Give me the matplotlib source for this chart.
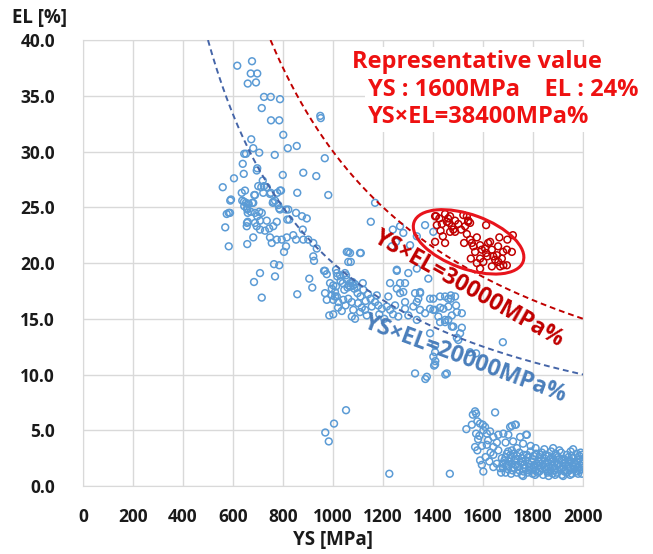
import numpy as np
import matplotlib.pyplot as plt
from matplotlib.patches import Ellipse
from matplotlib.transforms import ScaledTranslation

# (YS [MPa], EL [%])
blue_upper = [
    (617, 37.7), (676, 38.1), (671, 37.0), (697, 37.0), (659, 36.1), (692, 36.2),
    (724, 34.9), (751, 34.9), (788, 34.7), (715, 33.9), (752, 32.8), (785, 32.8),
    (949, 33.2), (951, 33.0), (801, 31.5), (673, 31.1), (819, 30.3), (855, 30.5),
    (681, 30.3), (652, 29.8), (645, 29.8), (705, 29.9), (767, 29.7), (967, 29.4),
    (639, 28.9), (697, 28.5), (695, 28.3), (643, 28.0), (799, 27.9), (881, 28.1),
    (933, 27.8), (604, 27.6), (719, 27.4), (559, 26.8), (592, 25.7), (589, 25.6),
    (635, 26.3), (648, 26.5), (644, 25.5), (660, 25.3), (656, 24.9), (681, 25.4),
    (688, 26.1), (713, 26.8), (735, 26.8), (751, 26.3), (788, 26.5), (761, 25.5),
    (785, 24.9), (812, 24.8), (852, 24.5), (876, 24.2), (895, 24.0), (583, 24.5),
    (588, 24.5), (659, 24.5), (671, 24.6), (701, 26.9), (724, 26.9), (721, 26.3),
    (748, 26.2), (777, 26.3), (792, 26.5), (857, 26.3), (981, 26.1), (637, 25.6),
    (652, 25.4), (663, 25.3), (677, 25.4), (685, 26.1), (645, 25.1), (657, 24.8),
    (759, 25.4), (768, 25.6), (781, 25.2), (788, 24.8), (575, 24.4), (688, 24.5),
    (705, 24.6), (697, 24.2), (715, 24.5), (821, 24.8), (1168, 25.4),
]

blue_middle = [
    (569, 23.2), (583, 21.5), (656, 23.6), (655, 23.3), (688, 23.6), (695, 23.3),
    (708, 23.8), (735, 23.8), (708, 23.0), (728, 22.9), (761, 23.3), (775, 23.7),
    (681, 22.3), (657, 21.7), (748, 22.3), (755, 21.8), (775, 22.1), (795, 22.1),
    (815, 22.3), (812, 21.5), (804, 21.0), (841, 22.5), (852, 22.1), (879, 23.0),
    (881, 22.1), (901, 22.1), (921, 21.8), (935, 21.3), (921, 20.6), (924, 20.2),
    (964, 19.3), (708, 19.1), (764, 19.9), (785, 19.8), (768, 18.8), (684, 18.3),
    (715, 16.9), (857, 17.2), (905, 18.6), (917, 17.8), (968, 19.3), (1012, 19.4),
    (1015, 19.1), (988, 18.2), (1001, 18.0), (995, 17.7), (1012, 17.9), (1008, 17.4),
    (968, 17.3), (995, 17.1), (1015, 17.0), (1001, 16.7), (985, 15.3), (1001, 15.4),
    (825, 23.9), (817, 23.9), (745, 23.1), (659, 23.7), (1061, 21.0), (1111, 20.9),
    (1061, 20.1), (1071, 20.1), (1017, 18.8), (1028, 18.9), (1048, 19.1), (1055, 18.5),
    (1039, 18.2), (1068, 18.2), (1081, 18.0), (1095, 17.8), (1119, 18.2), (1121, 17.6),
    (1062, 18.0), (1070, 17.9), (1078, 18.3), (1085, 17.7), (1058, 17.8), (1088, 18.1),
    (975, 16.7), (1008, 17.0), (1021, 16.5), (1041, 16.7), (1061, 16.8), (1075, 16.5),
    (1035, 15.7), (1075, 15.2), (1088, 15.0), (1081, 15.8), (1108, 15.6), (1128, 15.8),
    (1135, 15.3), (1155, 16.1), (1168, 16.5), (1181, 16.2), (1195, 15.9), (1215, 16.1),
    (1228, 15.8), (1248, 16.2), (1261, 15.2), (1288, 15.9), (1301, 15.3), (1335, 14.9),
    (1348, 15.8), (1421, 15.2), (1448, 14.9), (1461, 14.9), (1475, 15.3), (1495, 15.6),
    (1228, 18.2), (1268, 18.2), (1288, 18.2), (1255, 17.7), (1268, 17.3), (1281, 17.4),
    (1221, 17.0), (1255, 19.3), (1328, 17.3), (1348, 17.4), (1341, 16.8), (1335, 16.5),
    (1401, 16.8), (1428, 17.0), (1448, 17.0), (1471, 16.8), (1488, 17.0), (1388, 15.9),
    (1408, 15.8), (1428, 16.0), (1441, 15.9), (1461, 16.1), (1301, 19.1), (1335, 19.5),
    (1381, 18.6), (1151, 23.7), (1239, 23.0), (1268, 23.3), (1281, 22.7), (1252, 21.9),
    (1235, 21.5), (1308, 21.6), (1335, 22.4), (1055, 21.0), (1068, 20.9), (1108, 20.9),
    (1255, 19.4), (1030, 18.4), (1045, 17.6), (1052, 18.9), (1098, 17.3), (1110, 17.0),
    (1140, 17.2), (1150, 16.8), (1130, 16.6), (1020, 16.0), (1050, 16.2), (1100, 16.4),
    (1115, 16.0), (1185, 15.4), (1205, 15.0), (1240, 15.4), (1175, 17.1), (975, 19.0),
    (1288, 16.5), (1321, 16.1), (1348, 17.3), (1388, 16.8), (1368, 15.5), (1401, 15.8),
    (1428, 14.7), (1448, 14.7), (1461, 16.8), (1471, 17.1), (1492, 16.2), (1515, 15.5),
    (1475, 14.3), (1481, 14.3), (1515, 14.2), (1368, 23.4), (1401, 22.8),
]

blue_low = [
    (1388, 13.7), (1408, 12.6), (1408, 12.0), (1401, 11.6), (1408, 10.9), (1328, 10.1),
    (1375, 9.8), (1455, 10.1), (1369, 9.6), (1404, 10.8), (1409, 11.2), (1449, 10.0),
    (1052, 6.8), (1004, 5.6), (969, 4.8), (983, 4.0), (1225, 1.1), (1467, 1.1),
    (1679, 12.9), (1501, 13.1), (1508, 13.7), (1495, 13.3), (1548, 12.0), (1572, 11.9),
]

blue_cluster = [
    (1568, 6.7), (1559, 6.4), (1572, 6.5), (1577, 5.8), (1588, 5.6), (1599, 5.5),
    (1608, 5.3), (1601, 5.0), (1555, 5.5), (1533, 5.1), (1572, 4.7), (1585, 4.5),
    (1615, 4.7), (1628, 4.9), (1641, 4.4), (1661, 4.6), (1681, 4.7), (1701, 4.6),
    (1708, 5.3), (1728, 5.5), (1748, 4.4), (1772, 4.6), (1568, 3.5), (1577, 3.2),
    (1595, 3.6), (1615, 3.7), (1588, 2.3), (1595, 1.9), (1601, 1.3), (1641, 3.5),
    (1661, 3.2), (1641, 2.8), (1675, 2.5), (1695, 2.9), (1715, 3.2), (1735, 3.4),
    (1641, 1.7), (1668, 1.6), (1648, 6.6), (1715, 5.4), (1731, 5.5), (1775, 4.6),
    (1580, 4.2), (1620, 4.1), (1655, 3.9), (1690, 3.9), (1720, 4.0), (1760, 3.8),
    (1790, 3.6), (1810, 3.4), (1625, 2.2), (1655, 2.0), (1630, 3.0), (1610, 2.6),
    (1700, 3.1), (1722, 2.9), (1745, 3.0), (1762, 2.8), (1790, 3.1), (1812, 2.9),
    (1835, 3.0), (1850, 2.8), (1872, 3.1), (1890, 2.9), (1912, 3.0), (1935, 2.8),
    (1950, 3.1), (1975, 2.9), (1995, 2.8), (1690, 2.6), (1712, 2.5), (1735, 2.7),
    (1755, 2.5), (1780, 2.6), (1800, 2.4), (1825, 2.6), (1845, 2.5), (1862, 2.7),
    (1880, 2.5), (1900, 2.6), (1925, 2.4), (1942, 2.6), (1960, 2.5), (1985, 2.7),
    (2000, 2.4), (1685, 2.3), (1705, 2.2), (1725, 2.3), (1750, 2.1), (1770, 2.3),
    (1795, 2.2), (1815, 2.0), (1832, 2.3), (1855, 2.1), (1875, 2.2), (1895, 2.0),
    (1915, 2.3), (1930, 2.1), (1950, 2.2), (1970, 2.0), (1990, 2.2), (1695, 1.9),
    (1715, 2.0), (1740, 1.8), (1765, 1.9), (1785, 1.7), (1805, 1.9), (1820, 1.8),
    (1840, 1.9), (1860, 1.7), (1880, 1.8), (1900, 1.9), (1920, 1.7), (1940, 1.8),
    (1958, 1.9), (1978, 1.7), (1998, 1.8), (1680, 1.6), (1700, 1.5), (1722, 1.6),
    (1745, 1.4), (1770, 1.6), (1790, 1.5), (1810, 1.4), (1830, 1.6), (1850, 1.5),
    (1870, 1.4), (1888, 1.6), (1910, 1.5), (1928, 1.4), (1948, 1.6), (1965, 1.5),
    (1985, 1.4), (1690, 1.2), (1712, 1.1), (1735, 1.2), (1755, 1.0), (1778, 1.2),
    (1798, 1.1), (1818, 1.2), (1840, 1.0), (1858, 1.2), (1878, 1.1), (1895, 1.2),
    (1915, 1.0), (1935, 1.2), (1955, 1.1), (1975, 1.3), (1995, 1.1), (1760, 0.9),
    (1862, 0.9), (1920, 0.9), (1845, 3.3), (1905, 3.2), (1960, 3.3), (1880, 3.4),
    # extra fill of the dense band
    (1710, 2.8), (1732, 2.4), (1758, 2.2), (1782, 2.0), (1802, 2.7), (1822, 2.2),
    (1848, 2.0), (1868, 2.4), (1885, 2.1), (1905, 2.4), (1922, 2.0), (1945, 2.3),
    (1965, 2.1), (1982, 2.4), (1996, 2.0), (1718, 1.4), (1738, 1.7), (1762, 1.3),
    (1782, 1.4), (1802, 1.7), (1825, 1.3), (1845, 1.7), (1865, 1.3), (1885, 1.4),
    (1905, 1.7), (1925, 1.3), (1945, 1.4), (1962, 1.7), (1980, 1.1), (1993, 1.5),
    (1728, 1.9), (1775, 2.8), (1828, 2.8), (1892, 2.7), (1955, 2.7), (1990, 3.0),
    (1808, 1.0), (1888, 1.0), (1948, 1.0), (1702, 1.8), (1678, 2.0), (1672, 1.2),
]

red_points = [
    (1408, 24.2), (1448, 24.4), (1468, 24.2), (1415, 23.4), (1435, 23.5), (1455, 23.7),
    (1465, 23.6), (1475, 23.3), (1481, 23.0), (1468, 22.8), (1488, 22.8), (1501, 23.5),
    (1521, 24.3), (1535, 24.2), (1541, 23.8), (1528, 23.3), (1548, 23.6), (1612, 23.4),
    (1408, 21.9), (1439, 22.4), (1448, 21.8), (1524, 21.8), (1548, 22.1), (1555, 21.8),
    (1561, 21.5), (1568, 21.0), (1551, 20.4), (1588, 21.6), (1595, 21.2), (1608, 21.3),
    (1612, 20.9), (1617, 20.6), (1588, 20.4), (1601, 20.1), (1628, 21.9), (1635, 21.2),
    (1641, 20.6), (1648, 20.3), (1655, 20.7), (1661, 20.1), (1675, 20.4), (1681, 19.8),
    (1695, 19.8), (1668, 19.7), (1635, 19.7), (1695, 21.2), (1715, 21.0), (1719, 22.5),
    (1697, 22.1), (1588, 19.5), (1575, 20.0), (1412, 24.2), (1540, 23.7), (1425, 24.0),
    (1460, 24.0), (1488, 23.8), (1512, 23.0), (1430, 22.9), (1535, 22.6), (1575, 22.3),
    (1620, 21.8), (1660, 21.5), (1680, 21.0), (1665, 22.3),
]

ys_ticks = list(range(0, 2001, 200))
el_ticks = [0, 5, 10, 15, 20, 25, 30, 35, 40]

plt.rcParams['font.family'] = ['Open Sans', 'DejaVu Sans']

fig = plt.figure(figsize=(6.53, 5.54), dpi=100)
ax = fig.add_axes([0.127, 0.1227, 0.766, 0.805])

blue = np.array(blue_upper + blue_middle + blue_low + blue_cluster)
red = np.array(red_points)

ax.scatter(blue[:, 0], blue[:, 1], s=24, facecolors='none', edgecolors='#5b9bd5',
           linewidths=1.1, zorder=3)
ax.scatter(red[:, 0], red[:, 1], s=24, facecolors='none', edgecolors='#c00000',
           linewidths=1.1, zorder=4)

# iso-product curves YS x EL = const
x20 = np.linspace(500, 2000, 300)
ax.plot(x20, 20000 / x20, color='#4565a8', lw=1.4, dashes=(3, 2), zorder=5)
x30 = np.linspace(750, 2000, 300)
ax.plot(x30, 30000 / x30, color='#c00000', lw=1.4, dashes=(3, 2), zorder=5)

ax.text(1540, 17.7, 'YS×EL=30000MPa%', color='#c00000', fontsize=16.5, fontweight='bold',
        rotation=-29.5, ha='center', va='center', rotation_mode='anchor', zorder=6)
ax.text(1528, 11.4, 'YS×EL=20000MPa%', color='#4a7ebb', fontsize=16.5, fontweight='bold',
        rotation=-20.4, ha='center', va='center', rotation_mode='anchor', zorder=6)

# red ellipse around the representative points
ell = Ellipse((0, 0), 1.16, 0.54, angle=-20, fill=False, edgecolor='#e8141c', lw=2.2,
              transform=fig.dpi_scale_trans + ScaledTranslation(1542, 21.9, ax.transData),
              zorder=6)
ax.add_patch(ell)

box = dict(facecolor='white', edgecolor='none', pad=2)
fig.text(352 / 653, 1 - 62 / 554, 'Representative value', color='#ee1111', fontsize=17,
         fontweight='bold', va='center', ha='left', bbox=box)
fig.text(368 / 653, 1 - 90 / 554, 'YS : 1600MPa    EL : 24%', color='#ee1111', fontsize=17,
         fontweight='bold', va='center', ha='left', bbox=box)
fig.text(368 / 653, 1 - 117 / 554, 'YS×EL=38400MPa%', color='#ee1111', fontsize=17,
         fontweight='bold', va='center', ha='left', bbox=box)

ax.set_xlim(0, 2000)
ax.set_ylim(0, 40)
ax.set_xticks(ys_ticks)
ax.set_yticks(el_ticks)
ax.set_yticklabels([f'{v:.1f}' for v in el_ticks])
ax.tick_params(axis='y', length=0, labelsize=12.5, pad=20)
ax.tick_params(axis='x', length=0, labelsize=12.5, pad=16)
for lab in ax.get_xticklabels() + ax.get_yticklabels():
    lab.set_fontweight('bold')
    lab.set_color('#1a1a1a')
ax.grid(True, color='#d9d9d9', lw=1)
ax.set_axisbelow(True)
for sp in ax.spines.values():
    sp.set_color('#d9d9d9')

fig.text(12 / 653, 1 - 18 / 554, 'EL [%]', fontsize=13.5, fontweight='bold', va='center',
         color='#1a1a1a')
fig.text(333 / 653, 1 - 540 / 554, 'YS [MPa]', fontsize=13.5, fontweight='bold',
         va='center', ha='center', color='#1a1a1a')

fig.savefig('out.png', dpi=100)
